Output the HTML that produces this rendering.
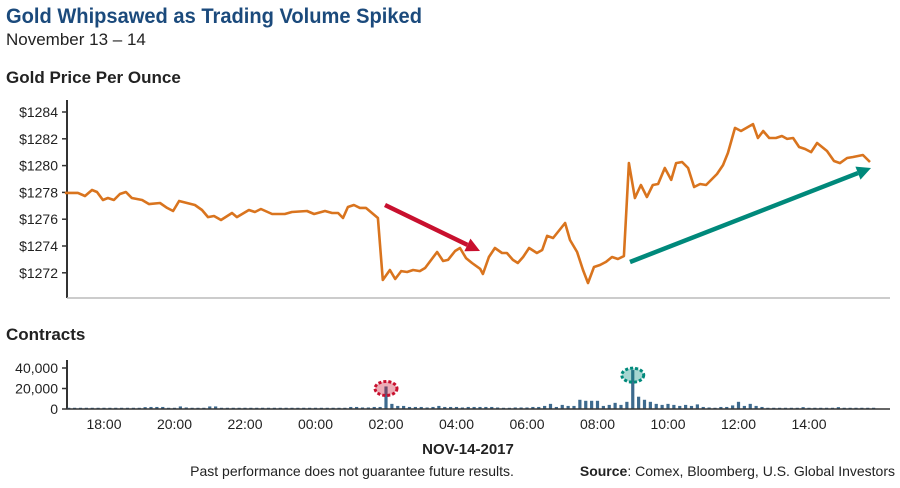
<!DOCTYPE html>
<html><head><meta charset="utf-8"><style>
body{margin:0;background:#fff;width:900px;height:483px;overflow:hidden;font-family:"Liberation Sans Narrow","Liberation Sans",sans-serif}
svg text{font-family:"Liberation Sans Narrow","Liberation Sans",sans-serif}
</style></head><body>
<svg id="c" width="900" height="483">
<text x="6" y="23" font-size="21" font-weight="bold" fill="#1b4a7c" textLength="416" lengthAdjust="spacingAndGlyphs">Gold Whipsawed as Trading Volume Spiked</text>
<text x="6" y="45" font-size="17" fill="#222">November 13 – 14</text>
<text x="6" y="83" font-size="17" font-weight="bold" fill="#222">Gold Price Per Ounce</text>
<text x="6" y="340" font-size="17" font-weight="bold" fill="#222">Contracts</text>
<text x="468" y="454" font-size="15" font-weight="bold" fill="#222" text-anchor="middle">NOV-14-2017</text>
<text x="352" y="476" font-size="14" fill="#222" text-anchor="middle">Past performance does not guarantee future results.</text>
<text x="895" y="476" font-size="14" fill="#222" text-anchor="end"><tspan font-weight="bold">Source</tspan>: Comex, Bloomberg, U.S. Global Investors</text>
<g id="g"></g>
</svg>
<script>
const priceTicks=[1272,1274,1276,1278,1280,1282,1284];
const priceHours=[-1.11,-0.74,-0.54,-0.34,-0.2,-0.03,0.11,0.28,0.45,0.62,0.79,1.08,1.28,1.59,1.79,1.96,2.13,2.58,2.78,2.95,3.12,3.32,3.63,3.77,4.11,4.28,4.45,4.77,5.13,5.33,5.76,5.96,6.27,6.47,6.64,6.78,6.92,7.09,7.26,7.43,7.77,7.91,8.11,8.26,8.43,8.6,8.77,8.96,9.11,9.45,9.62,9.76,9.96,10.1,10.27,10.44,10.67,10.75,10.92,11.09,11.29,11.43,11.6,11.74,11.89,12.06,12.28,12.43,12.57,12.74,13.08,13.22,13.42,13.59,13.73,13.9,14.07,14.24,14.41,14.58,14.75,14.89,15.06,15.23,15.4,15.57,15.72,15.91,16.09,16.23,16.4,16.57,16.74,16.91,17.08,17.39,17.56,17.7,17.9,18.07,18.41,18.55,18.7,18.87,19.06,19.23,19.38,19.55,19.72,19.89,20.06,20.23,20.51,20.71,20.88,21.08,21.25,21.53,21.73];
const prices=[1277.96,1277.96,1277.73,1278.18,1278.03,1277.43,1277.58,1277.43,1277.88,1278.03,1277.58,1277.43,1277.13,1277.21,1276.84,1276.61,1277.36,1277.06,1276.69,1276.16,1276.24,1275.94,1276.46,1276.16,1276.69,1276.54,1276.76,1276.39,1276.39,1276.54,1276.61,1276.39,1276.61,1276.46,1276.46,1276.09,1276.91,1277.06,1276.84,1276.84,1276.09,1271.46,1272.21,1271.54,1272.13,1272.06,1272.21,1272.13,1272.36,1273.55,1272.88,1272.96,1273.63,1273.85,1273.1,1272.73,1272.3,1271.91,1273.18,1273.85,1273.48,1273.48,1272.96,1272.73,1273.18,1273.85,1273.48,1273.7,1274.75,1274.6,1275.72,1274.45,1273.55,1272.21,1271.24,1272.43,1272.58,1272.81,1273.18,1273.03,1273.25,1280.19,1277.58,1278.55,1277.66,1278.55,1278.63,1279.82,1278.93,1280.19,1280.27,1279.82,1278.4,1278.63,1278.55,1279.37,1280.04,1280.94,1282.81,1282.58,1283.1,1282.06,1282.58,1282.06,1282.06,1282.21,1281.99,1282.06,1281.39,1281.24,1281.01,1281.69,1281.09,1280.34,1280.19,1280.57,1280.64,1280.79,1280.27];
const volumeK=[1.2,1.2,1.2,1.2,1.2,1.2, 1.2,1.2,1.2,1.2,1.2,1.2, 1.2,1.8,2,2,2,1.2, 1.2,2.5,1.5,1.2,1.2,1.2, 2.5,2.5,1.2,1.2,1.2,1.2, 1.2,1.2,1.2,1.2,1.2,1.2, 1.2,1.2,1.2,1.2,1.2,1.2, 1.2,1.2,1.2,1.2,1.2,1.2, 2,2,1.5,1.5,2,2, 22,5,3,3,2,2, 2,1.5,2,3,2,2, 2,1.5,2,2,2,2, 2,1.5,1.2,1.2,1.5,1.5, 1.5,2,2,3,5,2, 4,3,3,9,8,8, 8,3,4,6,4,7, 38,12,9,7,5,4, 5,4,3,4,3,4.5, 2,1.5,1.2,2,2,3.5, 7,3,5,3,2,1.2, 1.2,1.2,1.2,1.2,1.2,1.8, 1.2,1.2,1.2,1.2,1.2,1.8, 1.2,1.2,1.2,1.2,1.2,1.2];
const volTicks=[0,20000,40000];
const timeTicks=[0,2,4,6,8,10,12,14,16,18,20];
const timeLabels=["18:00","20:00","22:00","00:00","02:00","04:00","06:00","08:00","10:00","12:00","14:00"];
const volStart=-1;
const NS="http://www.w3.org/2000/svg";
const g=document.getElementById('g');
const X=h=>104+h*35.25;
const YP=p=>112+(1284-p)*13.4;
const YV=v=>409-v*20.5/20000;
function mk(t,a){const e=document.createElementNS(NS,t);for(const k in a)e.setAttribute(k,a[k]);g.appendChild(e);return e;}
let e=mk('line',{x1:67,y1:100,x2:67,y2:298,stroke:'#333','stroke-width':2});


e=mk('line',{x1:67,y1:298,x2:890,y2:298,stroke:'#bbb','stroke-width':1.5});


priceTicks.forEach(p=>{
  const y=YP(p);
  let t=mk('line',{x1:62,y1:y,x2:67,y2:y,stroke:'#333','stroke-width':1.5});
  
  
  let l=mk('text',{x:58,y:y+5,'font-size':14,'text-anchor':'end',fill:'#222'});l.textContent='$'+p;
  
  
});
let d=priceHours.map((h,i)=>(i?'L':'M')+X(h).toFixed(1)+','+YP(prices[i]).toFixed(1)).join('');
e=mk('path',{d:d,fill:'none',stroke:'#d9741e','stroke-width':2.6,'stroke-linejoin':'round'});


function arrow(x1,y1,x2,y2,c,name){
  const a=Math.atan2(y2-y1,x2-x1),L=14,W=7;
  const bx=x2-L*Math.cos(a),by=y2-L*Math.sin(a);
  const g2=mk('g',{});
  
  
  const ln=document.createElementNS(NS,'line');
  [['x1',x1],['y1',y1],['x2',bx],['y2',by],['stroke',c],['stroke-width',4.5]].forEach(([k,v])=>ln.setAttribute(k,v));
  g2.appendChild(ln);
  const pg=document.createElementNS(NS,'polygon');
  pg.setAttribute('points',`${x2},${y2} ${bx-W*Math.sin(a)},${by+W*Math.cos(a)} ${bx+W*Math.sin(a)},${by-W*Math.cos(a)}`);
  pg.setAttribute('fill',c);
  g2.appendChild(pg);
}
arrow(385,205,480,251,'#c8102e','downtrend-arrow');
arrow(630,262,871,168,'#00897b','uptrend-arrow');
e=mk('line',{x1:67,y1:360,x2:67,y2:409,stroke:'#333','stroke-width':2});


volTicks.forEach(v=>{
  const y=YV(v);
  let t=mk('line',{x1:62,y1:y,x2:67,y2:y,stroke:'#333','stroke-width':1.5});
  
  
  let l=mk('text',{x:58,y:y+5,'font-size':14,'text-anchor':'end',fill:'#222'});l.textContent=v.toLocaleString('en-US');
  
  
});
volumeK.forEach((v,i)=>{
  const x=X(volStart+i/6),y=YV(v*1000);
  let b=mk('rect',{x:x-1.6,y:y,width:3.2,height:409-y,fill:'#3d6a8e'});
  
  
});
e=mk('line',{x1:67,y1:409,x2:890,y2:409,stroke:'#333','stroke-width':1.5});


timeTicks.forEach((h,i)=>{
  let l=mk('text',{x:X(h),y:429,'font-size':14,'text-anchor':'middle',fill:'#222'});l.textContent=timeLabels[i];
  
  
});
function marker(h,v,stroke,fill,name){
  const c=mk('ellipse',{cx:X(h),cy:YV(v),rx:11,ry:7,fill:fill,stroke:stroke,'stroke-width':3,'stroke-dasharray':'3 2'});
  
  
}
marker(8,20000,'#c8102e','rgba(200,16,46,0.35)','spike-marker-0200');
marker(15,33000,'#00897b','rgba(0,137,123,0.35)','spike-marker-0900');
</script>
</body></html>
